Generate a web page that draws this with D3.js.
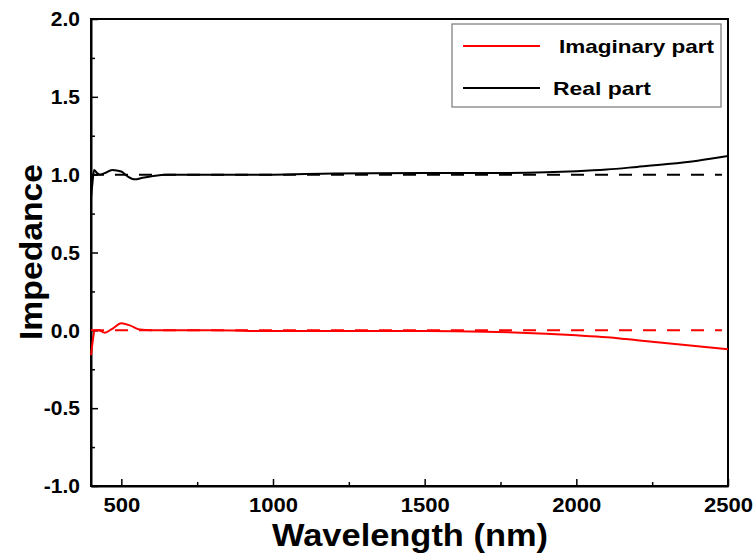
<!DOCTYPE html>
<html>
<head>
<meta charset="utf-8">
<script src="https://cdn.jsdelivr.net/npm/d3@7.9.0/dist/d3.min.js"></script>
<style>
  body { margin: 0; background: #fff; }
  svg { display: block; font-family: Arial, "Liberation Sans", sans-serif; }
  .tick text { font-weight: bold; font-size: 21px; }
</style>
</head>
<body>
<svg id="chart" width="753" height="555"></svg>
<script>
// wavelength (nm) sample points and the two impedance parts
const wavelength = [400, 405, 410, 420, 430, 445, 470, 500, 520, 545, 570, 600, 650, 800, 1000, 1200, 1500, 1700, 1900, 2000, 2100, 2200, 2300, 2400, 2500];
const realPart   = [0.85, 0.95, 1.03, 1.01, 1.0, 1.01, 1.03, 1.02, 0.99, 0.97, 0.98, 0.99, 1.0, 1.0, 1.0, 1.008, 1.01, 1.01, 1.015, 1.022, 1.033, 1.05, 1.068, 1.09, 1.12];
const imagWl     = [400, 405, 412, 425, 445, 470, 500, 530, 560, 600, 800, 1000, 1500, 1700, 1900, 2000, 2100, 2200, 2300, 2400, 2500];
const imagPart   = [-0.16, -0.08, 0.0, 0.0, -0.015, 0.01, 0.045, 0.03, 0.005, 0.0, 0.0, -0.005, -0.005, -0.009, -0.022, -0.032, -0.044, -0.063, -0.083, -0.102, -0.122];
const refLevels  = [{ value: 1, color: "#000" }, { value: 0, color: "#ff0000" }];
const xTicks = [500, 1000, 1500, 2000, 2500];
const xMinor = [750, 1250, 1750, 2250];
const yTicks = [-1, -0.5, 0, 0.5, 1, 1.5, 2];
const yMinor = [-0.75, -0.25, 0.25, 0.75, 1.25, 1.75];
const legendItems = [
  { label: "Imaginary part", color: "#ff0000" },
  { label: "Real part", color: "#000" }
];

const plot = { left: 91, right: 728, top: 19, bottom: 486 };
const svg = d3.select("#chart");

let x = d3.scaleLinear().domain([400, 2500]).range([plot.left, plot.right]);
let y = d3.scaleLinear().domain([-1, 2]).range([plot.bottom, plot.top]);

// frame
svg.append("rect")
  .attr("x", plot.left).attr("y", plot.top)
  .attr("width", plot.right - plot.left).attr("height", plot.bottom - plot.top)
  .attr("fill", "none").attr("stroke", "#000").attr("stroke-width", 2);

// axes, ticks inward
let xAxis = svg.append("g").attr("transform", `translate(0,${plot.bottom})`)
  .call(d3.axisBottom(x).tickValues(xTicks).tickSizeInner(-7).tickSizeOuter(0).tickPadding(11).tickFormat(d3.format("d")));
xAxis.select(".domain").attr("stroke-width", 2);
xAxis.selectAll(".tick line").attr("stroke-width", 1.5);
xAxis.selectAll(".tick text").attr("transform", "scale(1.05,1)");
svg.append("g").attr("transform", `translate(0,${plot.bottom})`)
  .call(d3.axisBottom(x).tickValues(xMinor).tickSize(-4).tickFormat(""))
  .call(g => g.select(".domain").remove())
  .selectAll("line").attr("stroke-width", 1.5);

let yAxis = svg.append("g").attr("transform", `translate(${plot.left},0)`)
  .call(d3.axisLeft(y).tickValues(yTicks).tickSizeInner(-7).tickSizeOuter(0).tickPadding(11).tickFormat(d => d.toFixed(1)));
yAxis.select(".domain").attr("stroke-width", 2);
yAxis.selectAll(".tick line").attr("stroke-width", 1.5);
svg.append("g").attr("transform", `translate(${plot.left},0)`)
  .call(d3.axisLeft(y).tickValues(yMinor).tickSize(-4).tickFormat(""))
  .call(g => g.select(".domain").remove())
  .selectAll("line").attr("stroke-width", 1.5);

// dashed reference lines
refLevels.forEach(r => {
  svg.append("line")
    .attr("x1", x(400)).attr("x2", x(2480))
    .attr("y1", y(r.value)).attr("y2", y(r.value))
    .attr("stroke", r.color).attr("stroke-width", 2)
    .attr("stroke-dasharray", "13,11");
});

let line = d3.line().curve(d3.curveMonotoneX);
svg.append("path")
  .attr("d", line(imagWl.map((w, i) => [x(w), y(imagPart[i])])))
  .attr("fill", "none").attr("stroke", "#ff0000").attr("stroke-width", 2);
svg.append("path")
  .attr("d", line(wavelength.map((w, i) => [x(w), y(realPart[i])])))
  .attr("fill", "none").attr("stroke", "#000").attr("stroke-width", 2);

// legend
let legend = svg.append("g");
legend.append("rect")
  .attr("x", 452).attr("y", 24).attr("width", 269).attr("height", 83)
  .attr("fill", "#fff").attr("stroke", "#777").attr("stroke-width", 1.2);
legendItems.forEach((d, i) => {
  let ly = 46 + i * 42;
  legend.append("line")
    .attr("x1", 463).attr("x2", 540).attr("y1", ly).attr("y2", ly)
    .attr("stroke", d.color).attr("stroke-width", 2);
  legend.append("text")
    .attr("x", i === 0 ? 559 : 553).attr("y", ly + 7)
    .attr("font-size", 19).attr("font-weight", "bold")
    .attr("textLength", i === 0 ? 155 : 98).attr("lengthAdjust", "spacingAndGlyphs")
    .text(d.label);
});

// axis titles
svg.append("text")
  .attr("x", 410).attr("y", 546)
  .attr("text-anchor", "middle").attr("font-size", 31).attr("font-weight", "bold")
  .attr("textLength", 276).attr("lengthAdjust", "spacingAndGlyphs")
  .text("Wavelength (nm)");
svg.append("text")
  .attr("transform", `translate(42,252) rotate(-90)`)
  .attr("text-anchor", "middle").attr("font-size", 32).attr("font-weight", "bold")
  .attr("textLength", 176).attr("lengthAdjust", "spacingAndGlyphs")
  .text("Impedance");
</script>
</body>
</html>
